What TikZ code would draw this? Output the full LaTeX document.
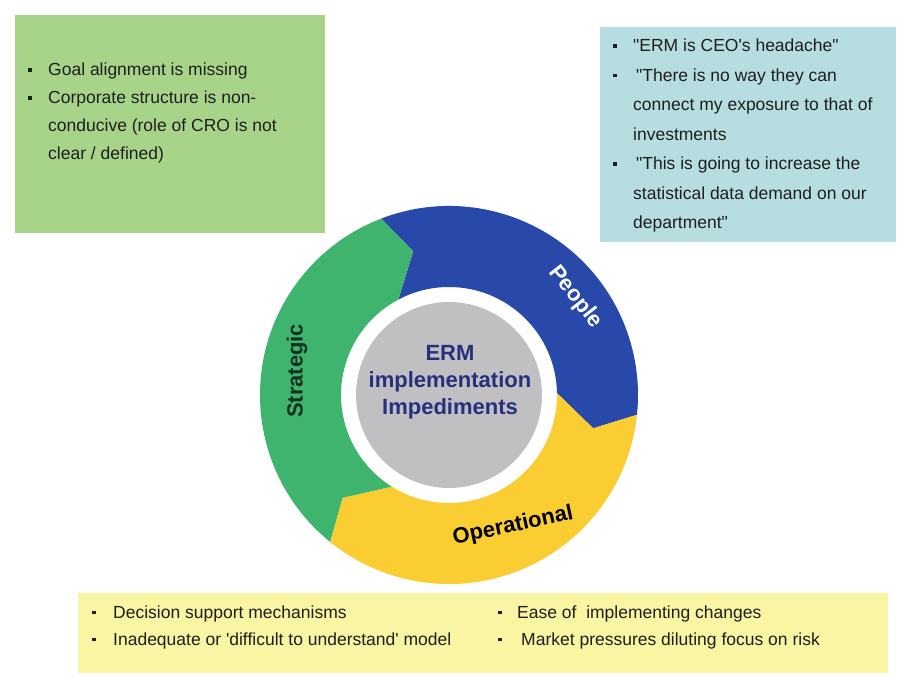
\documentclass[tikz,border=0pt]{standalone}
\usepackage{fontspec}
\setmainfont{Liberation Sans}
\usepackage{array}
\definecolor{boxgreen}{RGB}{168,212,138}
\definecolor{boxblue}{RGB}{182,221,224}
\definecolor{boxyellow}{RGB}{249,245,162}
\definecolor{ringgreen}{RGB}{62,180,110}
\definecolor{ringblue}{RGB}{40,72,170}
\definecolor{ringyellow}{RGB}{250,206,50}
\definecolor{hubgray}{RGB}{192,192,194}
\definecolor{hubtext}{RGB}{38,48,125}
\definecolor{bodytext}{RGB}{30,30,30}
\newcommand{\sqbul}{\rule[4pt]{3.5pt}{3.5pt}}
\newcommand{\dq}{\textquotedbl}
\begin{document}
\begin{tikzpicture}[x=1pt,y=1pt]
\useasboundingbox (0,0) rectangle (899,675);
\begin{scope}[every node/.style={inner sep=0pt, outer sep=0pt}]
  \node[fill=boxgreen, minimum width=310pt, minimum height=218pt] (strbox) at (170,551) {};
  \node[fill=boxblue, minimum width=296pt, minimum height=215pt] (pplbox) at (748,540.5) {};
  \node[fill=boxyellow, minimum width=810pt, minimum height=80pt] (opbox) at (483,42) {};
\end{scope}
\begin{scope}[every node/.style={anchor=base west, inner sep=0pt, text=bodytext, font=\fontsize{17.5}{28}\selectfont}]
  \node (strtxt) at (28,599) {\begin{tabular}[t]{@{}p{20pt}@{}l@{}}
    \sqbul & Goal alignment is missing\\
    \sqbul & Corporate structure is non-\\
           & conducive (role of CRO is not\\
           & clear / defined)
  \end{tabular}};
  \node[font=\fontsize{17.5}{29.5}\selectfont] (ppltxt) at (613,623) {\begin{tabular}[t]{@{}p{20pt}@{}l@{}}
    \sqbul & \dq ERM is CEO\textquotesingle s headache\dq\\
    \sqbul & \hspace{3pt}\dq There is no way they can\\
           & connect my exposure to that of\\
           & investments\\
    \sqbul & \hspace{3pt}\dq This is going to increase the\\
           & statistical data demand on our\\
           & department\dq
  \end{tabular}};
  \node[font=\fontsize{17.5}{27}\selectfont] (optxta) at (92,57) {\begin{tabular}[t]{@{}p{21pt}@{}l@{}}
    \sqbul & Decision support mechanisms\\
    \sqbul & Inadequate or \textquotesingle difficult to understand\textquotesingle{} model
  \end{tabular}};
  \node[font=\fontsize{17.5}{27}\selectfont] (optxtb) at (498,57) {\begin{tabular}[t]{@{}p{19pt}@{}l@{}}
    \sqbul & Ease of\ \ implementing changes\\
    \sqbul & \hspace{4pt}Market pressures diluting focus on risk
  \end{tabular}};
\end{scope}
\begin{scope}[shift={(449,280)}]
  \foreach \a/\b/\c in {111/-6/ringblue, -6/-129/ringyellow, 231/111/ringgreen}
    \fill[\c] (\a:189pt) arc[start angle=\a, end angle=\b, radius=189pt]
      -- (\b-7:148pt) -- (\b+7:108pt)
      arc[start angle=\b+7, end angle=\a+7, radius=108pt]
      -- (\a-7:148pt) -- cycle;
  \node[circle, fill=hubgray, minimum size=186pt, inner sep=0pt] (hub) at (0,0) {};
  \begin{scope}[every node/.style={font=\fontsize{22}{26}\bfseries}]
    \node[text=white, rotate=-52] (ppl) at (37.7:160pt) {People};
    \node[text=black, rotate=12] (op) at (-64:146pt) {Operational};
    \node[text={rgb,255:red,20;green,50;blue,30}, rotate=90] (str) at (171:154pt) {Strategic};
  \end{scope}
  \node[text=hubtext, align=center, font=\fontsize{22}{27}\bfseries] (hubtxt) at (1,13) {ERM\\implementation\\Impediments};
\end{scope}
\end{tikzpicture}
\end{document}
